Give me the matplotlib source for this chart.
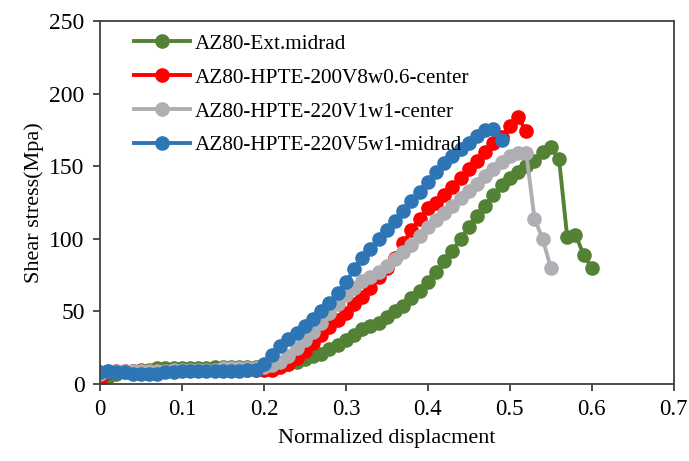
import matplotlib
matplotlib.use("Agg")
import matplotlib.pyplot as plt

plt.rcParams['font.family'] = ['Liberation Serif', 'DejaVu Serif']

# normalized displacement (same sampling for every curve, truncated per series)
x_all = [0.00, 0.01, 0.02, 0.03, 0.04, 0.05, 0.06, 0.07, 0.08, 0.09,
         0.10, 0.11, 0.12, 0.13, 0.14, 0.15, 0.16, 0.17, 0.18, 0.19,
         0.20, 0.21, 0.22, 0.23, 0.24, 0.25, 0.26, 0.27, 0.28, 0.29,
         0.30, 0.31, 0.32, 0.33, 0.34, 0.35, 0.36, 0.37, 0.38, 0.39,
         0.40, 0.41, 0.42, 0.43, 0.44, 0.45, 0.46, 0.47, 0.48, 0.49,
         0.50, 0.51, 0.52, 0.53, 0.54, 0.55, 0.56, 0.57, 0.58, 0.59, 0.60]

ext_midrad = [3, 5, 7, 8, 9, 10, 10, 11, 11, 11,
              11, 11, 11, 11, 12, 12, 12, 12, 12, 12,
              12, 12, 13, 14, 15, 17, 19, 21, 24, 27,
              30, 34, 38, 40, 42, 46, 50, 54, 59, 64,
              70, 77, 85, 92, 100, 108, 116, 123, 130, 137,
              142, 146, 150, 154, 160, 163, 155, 101, 103, 89, 80]

hpte200 = [2, 8, 9, 9, 9, 9, 9, 9, 9, 9,
           10, 10, 10, 10, 10, 10, 10, 10, 10, 10,
           10, 10, 12, 14, 18, 23, 28, 34, 39, 44,
           49, 55, 60, 66, 74, 80, 87, 97, 106, 114,
           121, 125, 130, 136, 142, 148, 154, 160, 166, 170,
           178, 184, 174]

hpte220_center = [7, 9, 9, 9, 9, 9, 9, 9, 9, 10,
                  10, 10, 10, 10, 10, 11, 11, 11, 11, 11,
                  12, 13, 15, 19, 25, 30, 36, 42, 49, 55,
                  61, 66, 71, 74, 77, 81, 86, 91, 96, 102,
                  108, 113, 118, 123, 128, 133, 138, 143, 148, 153,
                  157, 159, 159, 114, 100, 80]

hpte220_midrad = [8, 9, 8, 8, 7, 7, 7, 7, 8, 8,
                  9, 9, 9, 9, 9, 9, 9, 9, 10, 10,
                  14, 20, 26, 31, 35, 40, 45, 50, 56, 63,
                  70, 79, 87, 93, 100, 106, 112, 119, 126, 132,
                  139, 146, 152, 157, 162, 166, 171, 175, 176, 168]

labels = ["AZ80-Ext.midrad", "AZ80-HPTE-200V8w0.6-center",
          "AZ80-HPTE-220V1w1-center", "AZ80-HPTE-220V5w1-midrad"]
colors = ["#548235", "#FF0000", "#AFAFB3", "#2E75B6"]

fig = plt.figure(figsize=(6.89, 4.61), dpi=100)
ax = fig.add_axes([0.145, 0.167, 0.833, 0.787])

for y, lab, c in zip([ext_midrad, hpte200, hpte220_center, hpte220_midrad], labels, colors):
    ax.plot(x_all[:len(y)], y, color=c, marker='o', markersize=9.5,
            linewidth=2.8, label=lab)

ax.set_xlim(0, 0.7)
ax.set_ylim(0, 250)
ax.set_xticks([0, 0.1, 0.2, 0.3, 0.4, 0.5, 0.6, 0.7])
ax.set_xticklabels(['0', '0.1', '0.2', '0.3', '0.4', '0.5', '0.6', '0.7'])
ax.set_yticks([0, 50, 100, 150, 200, 250])
ax.tick_params(labelsize=17, length=5, width=1.3, color='#404040', pad=6)
ax.tick_params(axis='x', labelsize=16.5)
for s in ax.spines.values():
    s.set_color('#404040')
    s.set_linewidth(1.3)

ax.set_xlabel("Normalized displacment", fontsize=16, labelpad=6)
ax.set_ylabel("Shear stress(Mpa)", fontsize=16, labelpad=4)

ax.legend(loc='upper left', bbox_to_anchor=(0.06, 0.965), frameon=False,
          fontsize=15.3, borderpad=0, borderaxespad=0, handlelength=2.6,
          handletextpad=0.25, labelspacing=0.66)

fig.savefig("out.png", dpi=100)
